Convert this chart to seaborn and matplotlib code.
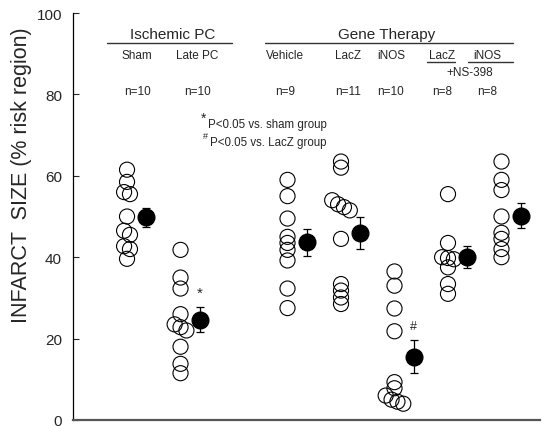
import numpy as np
import pandas as pd
import matplotlib
matplotlib.use("Agg")
import matplotlib.pyplot as plt
import seaborn as sns

# Infarct size (% of risk region) for each animal
sham = [61.5, 58.5, 56.0, 55.5, 50.0, 46.5, 45.5, 42.7, 42.0, 39.6]
late_pc = [41.8, 35.0, 32.3, 26.0, 23.5, 22.8, 22.0, 18.0, 13.8, 11.5]
vehicle = [59.0, 55.0, 49.5, 45.0, 43.5, 41.8, 39.2, 32.3, 27.5]
lacz = [63.5, 62.0, 54.0, 53.0, 52.3, 51.5, 44.5, 33.4, 31.8, 30.1, 28.5]
inos = [36.5, 33.0, 27.4, 21.8, 9.3, 7.8, 6.0, 5.0, 4.5, 4.0]
lacz_ns = [55.5, 43.5, 40.0, 39.8, 39.5, 37.5, 33.4, 31.0]
inos_ns = [63.5, 59.0, 56.5, 50.0, 46.0, 44.5, 42.0, 40.0]

groups = ["Sham", "Late PC", "Vehicle", "LacZ", "iNOS", "LacZ+NS-398", "iNOS+NS-398"]
group_values = [sham, late_pc, vehicle, lacz, inos, lacz_ns, inos_ns]
header_labels = ["Sham", "Late PC", "Vehicle", "LacZ", "iNOS", "LacZ", "iNOS"]
significance = {"Late PC": "*", "iNOS": "#"}

# layout: column positions (gap between the two experimental series)
group_pos = [0, 1, 3, 4, 5, 6, 7]
mean_offset = 0.36
header_x = [0.19, 1.32, 2.95, 4.14, 4.93, 5.89, 6.74]

rows = []
for g, pos, vals in zip(groups, group_pos, group_values):
    for v in vals:
        rows.append({"group": g, "pos": pos, "size": v})
df = pd.DataFrame(rows)

# spread nearly coincident points sideways so overlapping circles stay visible
def spread(sub):
    sub = sub.sort_values("size", ascending=False).copy()
    xs = sub["pos"].astype(float).values.copy()
    vals = sub["size"].values
    i = 0
    while i < len(vals):
        j = i
        while j + 1 < len(vals) and vals[j] - vals[j + 1] <= 1.0:
            j += 1
        k = j - i + 1
        if k > 1:
            xs[i:j + 1] += (np.arange(k) - (k - 1) / 2) * 0.11
        i = j + 1
    sub["x"] = xs
    return sub

df = pd.concat([spread(s) for _, s in df.groupby("group", sort=False)])

stats = df.groupby("group", sort=False)["size"].agg(["mean", "sem"]).reindex(groups)
stats["pos"] = [p + mean_offset for p in group_pos]

sns.set_style("white")
plt.rcParams["font.family"] = ["Liberation Sans", "DejaVu Sans"]

fig = plt.figure(figsize=(5.44, 4.27), dpi=100)
ax = fig.add_axes([73 / 544, 6 / 427, 467 / 544, 407 / 427])

sns.scatterplot(data=df, x="x", y="size", ax=ax, s=118, facecolor="none",
                edgecolor="black", linewidth=0.8, legend=False, zorder=3)

ax.errorbar(stats["pos"], stats["mean"], yerr=stats["sem"], fmt="o",
            color="black", markersize=12, elinewidth=0.9, capsize=3.2,
            capthick=0.9, zorder=4)

for g, sym in significance.items():
    row = stats.loc[g]
    ax.text(row["pos"] - 0.01, row["mean"] + row["sem"] + 3.6, sym,
            ha="center", va="center", fontsize=9 if sym == "#" else 11)

ax.set_xlim(-1.01, 7.72)
ax.set_ylim(0, 100)
ax.set_yticks([0, 20, 40, 60, 80, 100])
ax.set_xticks([])
ax.tick_params(axis="y", direction="in", length=4, width=0.8, pad=8,
               labelsize=11, left=True)
ax.set_xlabel("")
ax.set_ylabel("INFARCT  SIZE (% risk region)", fontsize=15.5)
ax.yaxis.set_label_coords(-0.088, 0.604)

for side in ["top", "right"]:
    ax.spines[side].set_visible(False)
ax.spines["left"].set_color("black")
ax.spines["left"].set_linewidth(0.9)
ax.spines["bottom"].set_color("#555555")
ax.spines["bottom"].set_linewidth(1.6)

# group headings
ax.text(0.85, 94.8, "Ischemic PC", ha="center", va="center", fontsize=11)
ax.plot([-0.37, 1.96], [92.6, 92.6], color="#333333", lw=1.0, clip_on=False)
ax.text(4.85, 94.8, "Gene Therapy", ha="center", va="center", fontsize=11)
ax.plot([2.58, 7.21], [92.6, 92.6], color="#333333", lw=1.0, clip_on=False)

for hx, lab, vals in zip(header_x, header_labels, group_values):
    ax.text(hx, 89.8, lab, ha="center", va="center", fontsize=8.5)
    ax.text(hx, 80.9, f"n={len(vals)}", ha="center", va="center", fontsize=8.5)

ax.plot([5.61, 6.13], [88.0, 88.0], color="#333333", lw=1.0)
ax.plot([6.37, 7.21], [88.0, 88.0], color="#333333", lw=1.0)
ax.text(6.41, 85.6, "+NS-398", ha="center", va="center", fontsize=8.5)

# significance legend
ax.text(1.43, 74.2, "*", ha="center", va="center", fontsize=10)
ax.text(1.51, 72.7, "P<0.05 vs. sham group", ha="left", va="center", fontsize=8.3)
ax.text(1.46, 69.9, "#", ha="center", va="center", fontsize=6.5)
ax.text(1.55, 68.2, "P<0.05 vs. LacZ group", ha="left", va="center", fontsize=8.3)

fig.savefig("out.png", dpi=100)
